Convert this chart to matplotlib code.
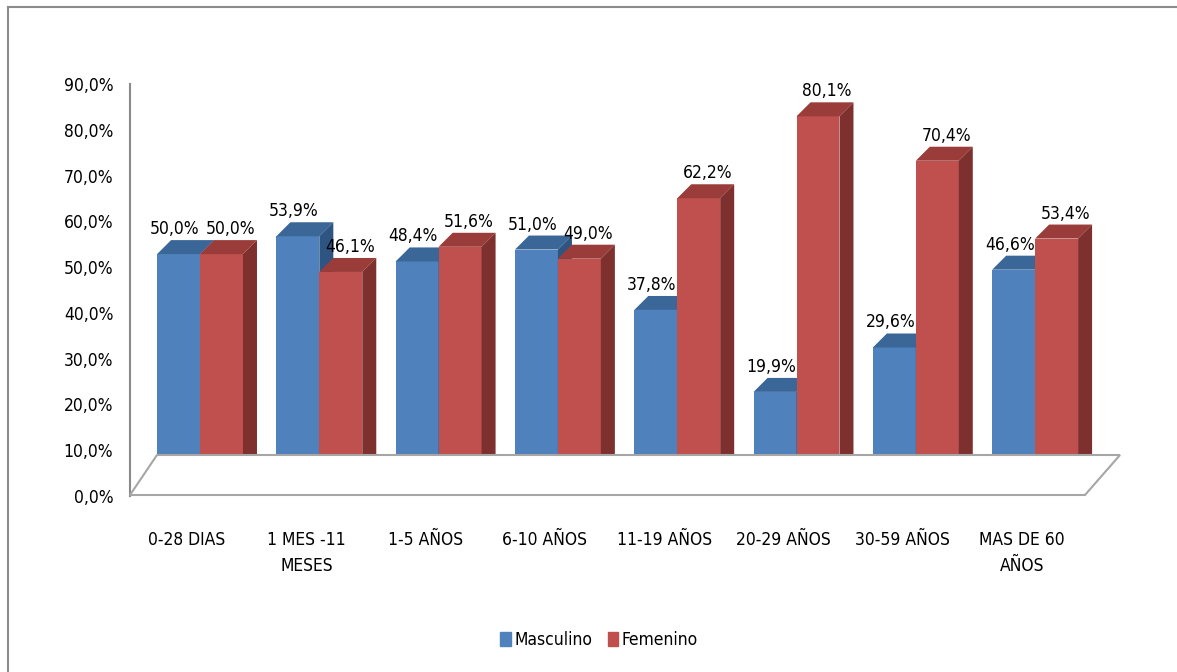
import matplotlib
matplotlib.use('Agg')
import matplotlib.pyplot as plt
from matplotlib import font_manager
from matplotlib.patches import Polygon, Rectangle
from matplotlib.lines import Line2D

# datos
categorias = ['0-28 DIAS', '1 MES -11\nMESES', '1-5 AÑOS', '6-10 AÑOS',
              '11-19 AÑOS', '20-29 AÑOS', '30-59 AÑOS', 'MAS DE 60\nAÑOS']
masculino = [50.0, 53.9, 48.4, 51.0, 37.8, 19.9, 29.6, 46.6]
femenino = [50.0, 46.1, 51.6, 49.0, 62.2, 80.1, 70.4, 53.4]
ticks_y = [0, 10, 20, 30, 40, 50, 60, 70, 80, 90]
series = ['Masculino', 'Femenino']

plt.rcParams['font.family'] = ['DejaVu Sans']
plt.rcParams['font.stretch'] = 'condensed'
fuente = font_manager.findfont(font_manager.FontProperties(family='DejaVu Sans', stretch='condensed'))
FS = 12.5 if 'Condensed' in fuente else 11
plt.rcParams['font.size'] = FS

# colores estilo Excel 2007 (frente, techo, lado)
azul = ('#4F81BD', '#3A6698', '#2E5582')
rojo = ('#C0504D', '#9A3D3A', '#7D302E')

W, H = 1177, 672
fig = plt.figure(figsize=(W / 100, H / 100), dpi=100)

XL = (-0.478, 7.527)
YL = (0, 90)

# plano frontal: eje y, etiquetas
ax = fig.add_axes([130 / W, (H - 496) / H, 955 / W, 412 / H])
ax.set_xlim(XL)
ax.set_ylim(YL)
ax.set_facecolor('none')
for s in ['top', 'right', 'bottom']:
    ax.spines[s].set_visible(False)
ax.spines['left'].set_color('#8A8A8A')
ax.spines['left'].set_linewidth(1.5)
ax.set_yticks(ticks_y)
ax.set_yticklabels([('%.1f%%' % t).replace('.', ',') for t in ticks_y])
ax.set_xticks(range(len(categorias)))
ax.set_xticklabels(categorias)
for lab in ax.get_xticklabels():
    lab.set_linespacing(1.6)
ax.tick_params(axis='y', length=0, pad=12)
ax.tick_params(axis='x', length=0, pad=25)

# piso en perspectiva
x0p = ax.bbox.x0
x1p = ax.bbox.x1
y0p = ax.bbox.y0 + 1
piso = [(x0p, y0p), (x1p, y0p), (x1p + 35, y0p + 40), (x0p + 27, y0p + 40)]
fig.patches.append(Polygon(piso, closed=True, transform=None, facecolor='white',
                           edgecolor='#A6A6A6', lw=1.5, zorder=0))

# plano de las barras (desplazado en profundidad)
axb = fig.add_axes([143 / W, (H - 483) / H, 955 / W, 412 / H])
axb.set_xlim(XL)
axb.set_ylim(YL)
axb.axis('off')

ppx = axb.bbox.width / (XL[1] - XL[0])
ppy = axb.bbox.height / (YL[1] - YL[0])
ddx = 14 / ppx
ddy = 14 / ppy
w = 0.36


def barras3d(xs, vals, col, z, dx_lab):
    axb.bar(xs, vals, w, align='edge', color=col[0], zorder=z, lw=0)
    for x0, h in zip(xs, vals):
        techo = [(x0, h), (x0 + w, h), (x0 + w + ddx, h + ddy), (x0 + ddx, h + ddy)]
        lado = [(x0 + w, 0), (x0 + w, h), (x0 + w + ddx, h + ddy), (x0 + w + ddx, ddy)]
        axb.add_patch(Polygon(techo, closed=True, facecolor=col[1], lw=0, zorder=z))
        axb.add_patch(Polygon(lado, closed=True, facecolor=col[2], lw=0, zorder=z))
        axb.annotate(('%.1f%%' % h).replace('.', ','), xy=(x0 + w / 2, h),
                     xytext=(dx_lab, 25), textcoords='offset pixels',
                     ha='center', va='center', fontsize=FS, zorder=z + 5)


pos = list(range(len(categorias)))
barras3d([p - w for p in pos], masculino, azul, 2, -4)
barras3d(pos, femenino, rojo, 3, 9)

# leyenda
handles = [Rectangle((0, 0), 1, 1, color=azul[0]), Rectangle((0, 0), 1, 1, color=rojo[0])]
fig.legend(handles, series, loc='center', bbox_to_anchor=(599 / W, 1 - 640 / H),
           ncol=2, frameon=False, fontsize=FS, handlelength=0.62, handleheight=0.85,
           handletextpad=0.2, columnspacing=0.9)

# marco
fig.lines.append(Line2D([8 / W, 1], [1 - 7 / H, 1 - 7 / H], transform=fig.transFigure,
                        color='#8C8C8C', lw=1.5))
fig.lines.append(Line2D([8 / W, 8 / W], [0, 1 - 7 / H], transform=fig.transFigure,
                        color='#8C8C8C', lw=1.5))

fig.savefig('out.png', dpi=100)
